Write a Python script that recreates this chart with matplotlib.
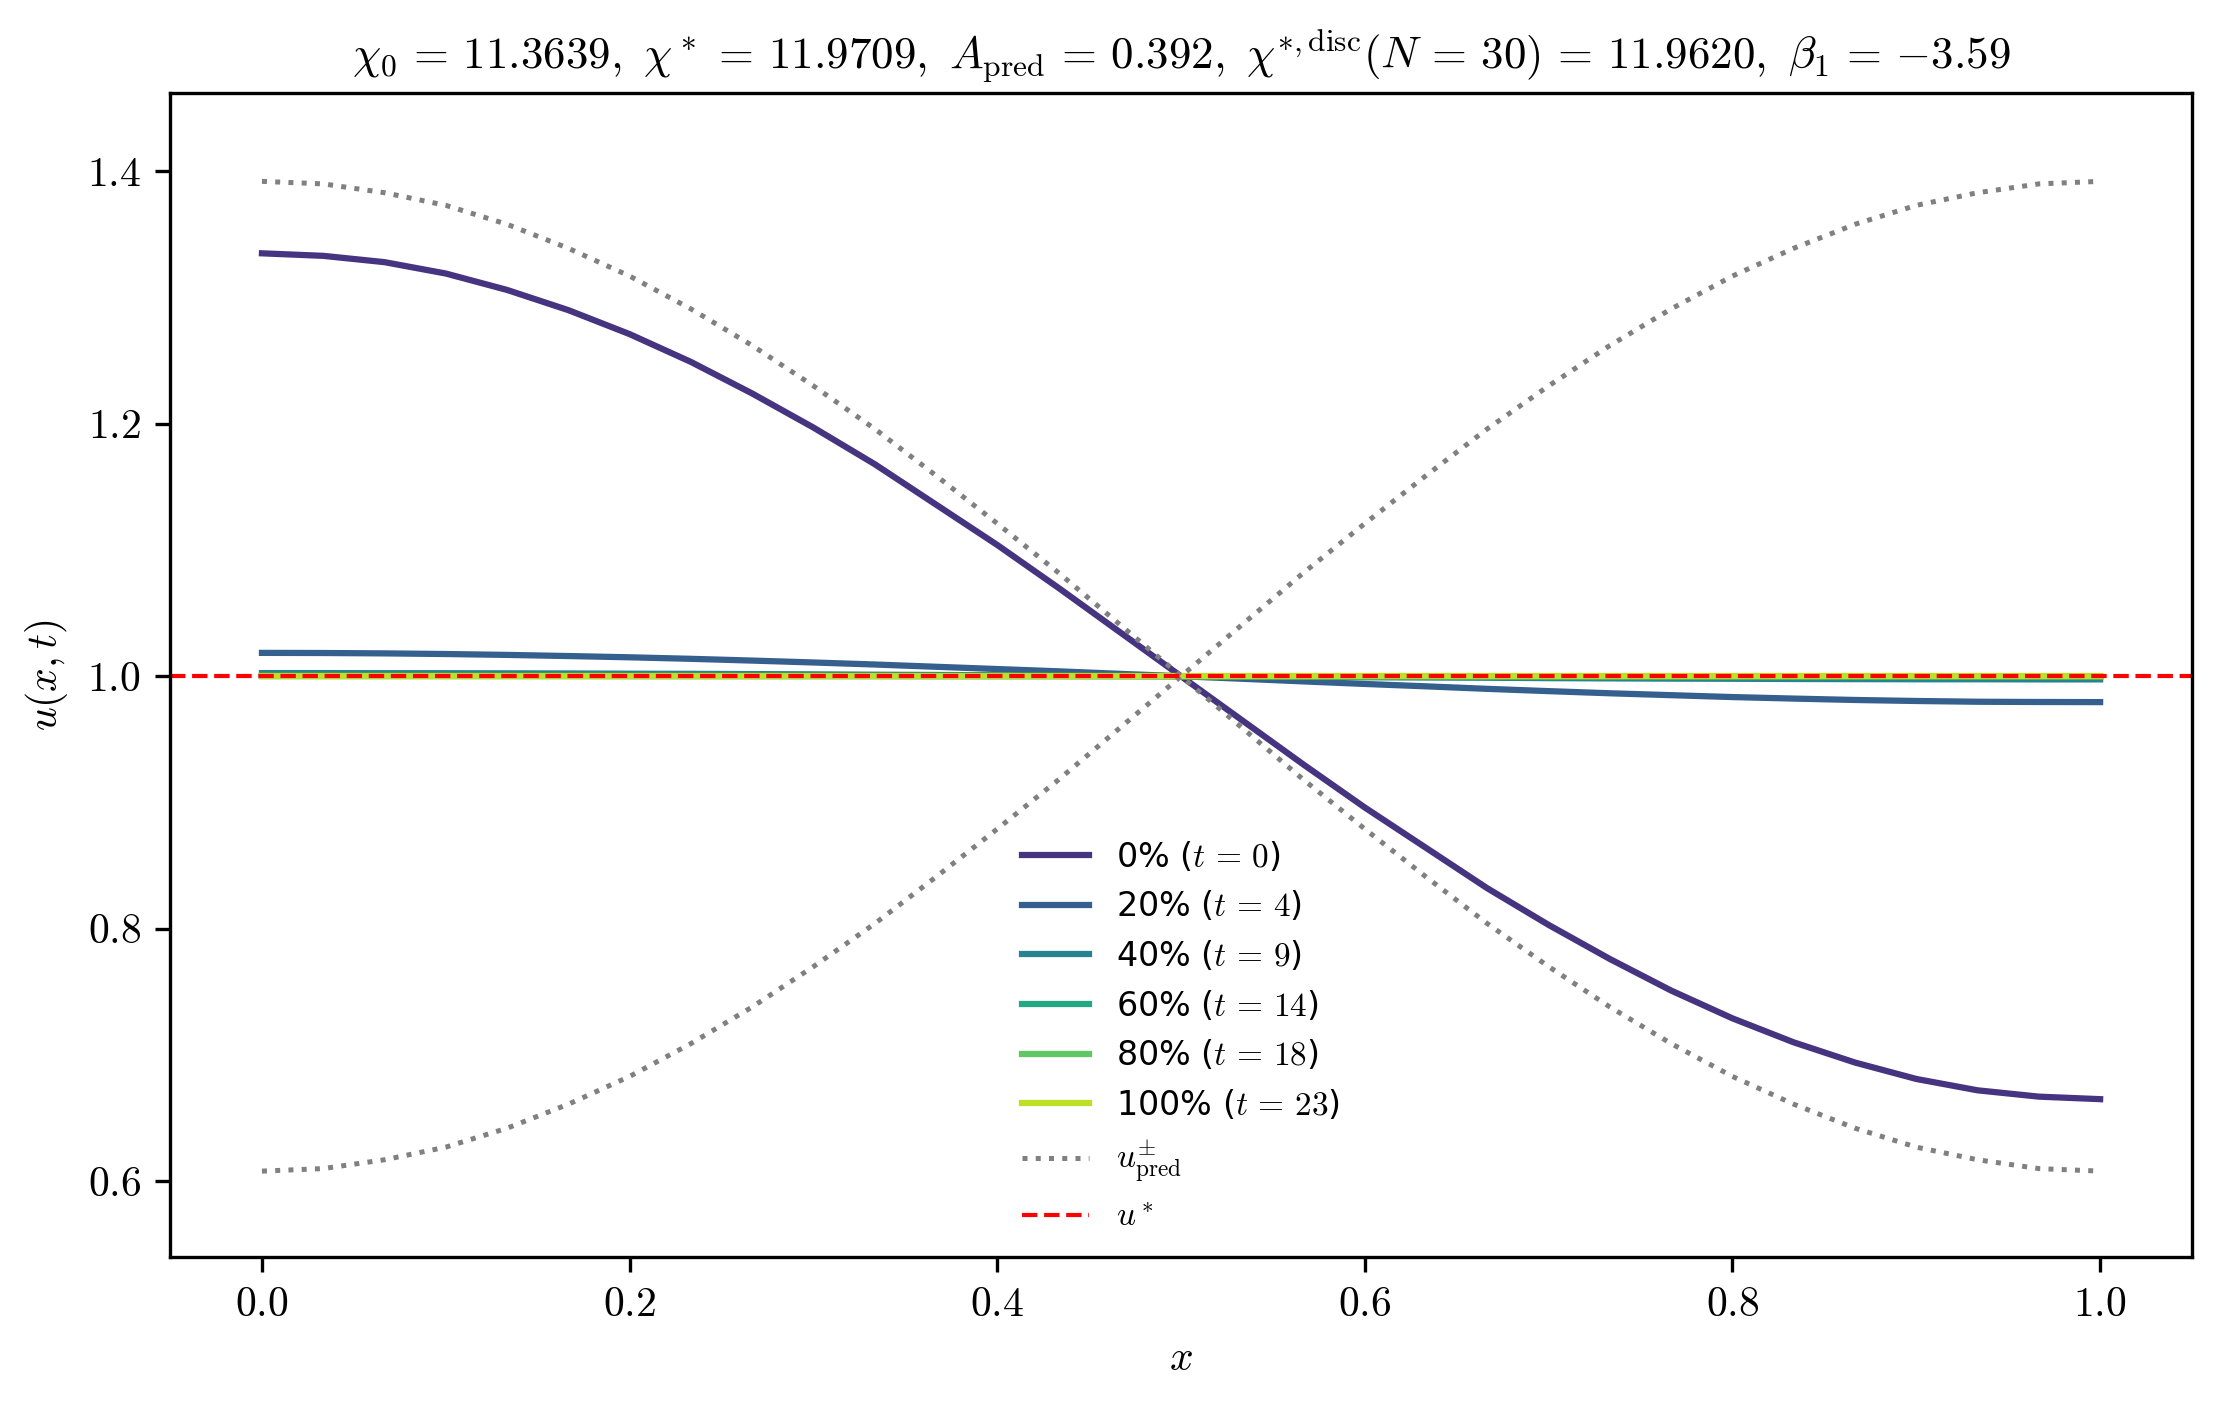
import matplotlib
matplotlib.use('Agg')
import matplotlib.pyplot as plt
import numpy as np

plt.rcParams['mathtext.fontset'] = 'cm'
plt.rcParams['font.family'] = ['cmr10', 'DejaVu Sans']
plt.rcParams['axes.formatter.use_mathtext'] = True
plt.rcParams['font.size'] = 10

# grid x_j = j/N, N = 30
x = np.linspace(0.0, 1.0, 31)

u_0 = [1.335, 1.333, 1.328, 1.319, 1.306, 1.290, 1.271, 1.249, 1.224, 1.197, 1.168,
       1.136, 1.104, 1.070, 1.035, 1.000, 0.965, 0.930, 0.896, 0.864, 0.832,
       0.803, 0.776, 0.751, 0.729, 0.710, 0.694, 0.681, 0.672, 0.667, 0.665]
u_20 = [1.0185, 1.0184, 1.0181, 1.0176, 1.0169, 1.0160, 1.0150, 1.0138, 1.0124, 1.0109, 1.0093,
        1.0075, 1.0057, 1.0039, 1.0019, 1.0000, 0.9980, 0.9959, 0.9939, 0.9920, 0.9900,
        0.9882, 0.9865, 0.9850, 0.9835, 0.9823, 0.9812, 0.9804, 0.9798, 0.9796, 0.9795]
u_40 = [1.0025, 1.0025, 1.0024, 1.0024, 1.0023, 1.0022, 1.0020, 1.0019, 1.0017, 1.0015, 1.0012,
        1.0010, 1.0008, 1.0005, 1.0003, 1.0000, 0.9997, 0.9995, 0.9992, 0.9990, 0.9988,
        0.9985, 0.9983, 0.9981, 0.9980, 0.9978, 0.9977, 0.9976, 0.9976, 0.9975, 0.9975]
u_60 = [1.0003, 1.0003, 1.0003, 1.0003, 1.0003, 1.0003, 1.0002, 1.0002, 1.0002, 1.0002, 1.0002,
        1.0001, 1.0001, 1.0001, 1.0000, 1.0000, 1.0000, 0.9999, 0.9999, 0.9999, 0.9998,
        0.9998, 0.9998, 0.9998, 0.9998, 0.9997, 0.9997, 0.9997, 0.9997, 0.9997, 0.9997]
u_80 = [1.00005, 1.00005, 1.00005, 1.00005, 1.00004, 1.00004, 1.00004, 1.00004, 1.00003, 1.00003, 1.00003,
        1.00002, 1.00002, 1.00001, 1.00001, 1.00000, 0.99999, 0.99999, 0.99998, 0.99998, 0.99997,
        0.99997, 0.99997, 0.99996, 0.99996, 0.99996, 0.99996, 0.99995, 0.99995, 0.99995, 0.99995]
u_100 = [1.0] * 31

u_pred_plus = [1.392, 1.390, 1.383, 1.373, 1.358, 1.339, 1.317, 1.291, 1.262, 1.230, 1.196,
               1.159, 1.121, 1.082, 1.041, 1.000, 0.959, 0.918, 0.879, 0.841, 0.804,
               0.770, 0.738, 0.709, 0.683, 0.661, 0.642, 0.627, 0.617, 0.610, 0.608]
u_pred_minus = [0.608, 0.610, 0.617, 0.627, 0.642, 0.661, 0.683, 0.709, 0.738, 0.770, 0.804,
                0.841, 0.879, 0.918, 0.959, 1.000, 1.041, 1.082, 1.121, 1.159, 1.196,
                1.230, 1.262, 1.291, 1.317, 1.339, 1.358, 1.373, 1.383, 1.390, 1.392]
u_star = 1.0

snapshots = [u_0, u_20, u_40, u_60, u_80, u_100]
percents = [0, 20, 40, 60, 80, 100]
t_steps = [0, 4, 9, 14, 18, 23]

fig = plt.figure(figsize=(7.4, 4.6967), dpi=300)
ax = fig.add_axes([0.0766, 0.1079, 0.9108, 0.8261])

colors = plt.cm.viridis(np.linspace(0.15, 0.9, len(snapshots)))
for u, p, t, c in zip(snapshots, percents, t_steps, colors):
    ax.plot(x, u, color=c, lw=1.5, label=f'{p}% ($t\\,=\\,{t}$)')

ax.plot(x, u_pred_plus, ':', color='gray', lw=1.2, label=r'$u^{\pm}_{\rm pred}$')
ax.plot(x, u_pred_minus, ':', color='gray', lw=1.2)
ax.axhline(u_star, color='red', ls='--', lw=1.0, label=r'$u^*$')

ax.set_xlim(-0.05, 1.05)
ax.set_ylim(0.54, 1.462)
ax.set_xticks([0.0, 0.2, 0.4, 0.6, 0.8, 1.0])
ax.set_yticks([0.6, 0.8, 1.0, 1.2, 1.4])
ax.set_xlabel(r'$x$')
ax.set_ylabel(r'$u(x,t)$')
ax.set_title(r'$\chi_0\,=\,11.3639,\ \chi^*\,=\,11.9709,\ A_{\rm pred}\,=\,0.392,\ '
             r'\chi^{*,{\rm disc}}(N\,=\,30)\,=\,11.9620,\ \beta_1\,=\,{-}3.59$',
             fontsize=10.8)
ax.legend(loc='lower center', frameon=False, labelspacing=0.47, borderaxespad=0.3,
          prop={'family': 'DejaVu Sans', 'size': 8})

fig.savefig('out.png', dpi=300)
